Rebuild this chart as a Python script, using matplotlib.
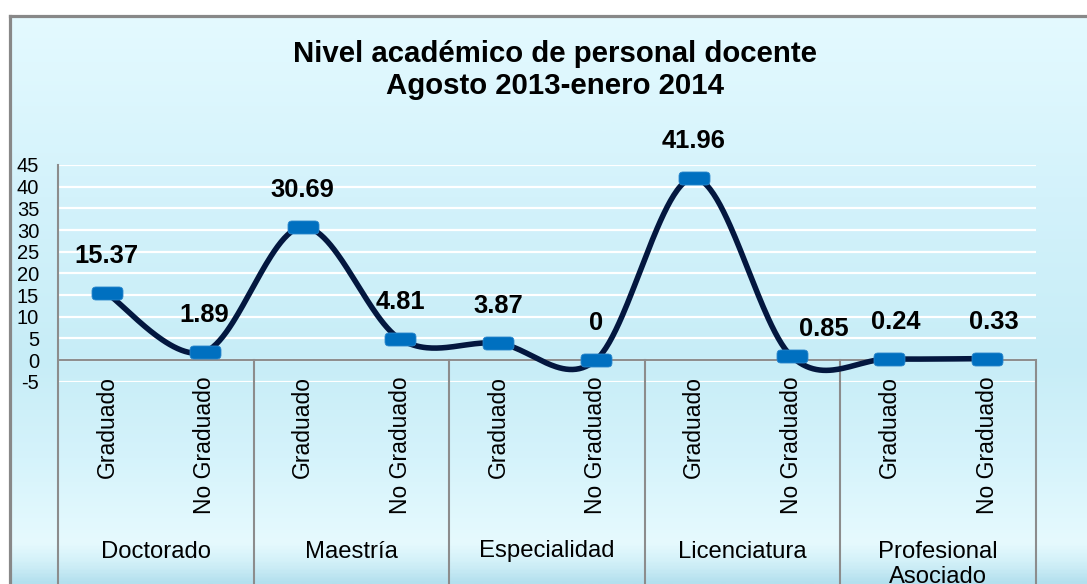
import numpy as np
import matplotlib
matplotlib.use("Agg")
import matplotlib.pyplot as plt
import matplotlib.transforms as mtransforms
from matplotlib.patches import BoxStyle
from matplotlib.colors import LinearSegmentedColormap

# ---------------- data ----------------
groups = ["Doctorado", "Maestría", "Especialidad", "Licenciatura", "Profesional\nAsociado"]
subcats = ["Graduado", "No Graduado"]
values = [15.37, 1.89, 30.69, 4.81, 3.87, 0, 41.96, 0.85, 0.24, 0.33]
value_labels = ["15.37", "1.89", "30.69", "4.81", "3.87", "0", "41.96", "0.85", "0.24", "0.33"]
yticks = [-5, 0, 5, 10, 15, 20, 25, 30, 35, 40, 45]
title = "Nivel académico de personal docente\nAgosto 2013-enero 2014"

# ---------------- style ----------------
plt.rcParams['font.family'] = ['Liberation Sans', 'DejaVu Sans']
W, H = 1087, 584
DPI = 100
fig = plt.figure(figsize=(W / DPI, H / DPI), dpi=DPI)
fig.patch.set_facecolor('white')

def fx(px):
    return px / W

def fy(py):
    return 1 - py / H

# background (chart area gradient + border)
bg = fig.add_axes([fx(9.5), 0, 1 - fx(9.5) + 0.05, fy(15.5)], zorder=-10)
stops = [(0.0, '#E4FAFF'), (0.32, '#D3F2FB'), (0.61, '#C7EDF7'),
         (0.78, '#D5F3FB'), (0.93, '#E6FAFE'), (0.965, '#D2F0F8'), (1.0, '#B4E0EE')]
cmap = LinearSegmentedColormap.from_list('bg', stops)
grad = np.linspace(0, 1, 400).reshape(-1, 1)
bg.imshow(grad, aspect='auto', cmap=cmap, extent=[0, 1, 1, 0], interpolation='bilinear')
bg.set_xlim(0, 1)
bg.set_ylim(1, 0)
bg.set_xticks([])
bg.set_yticks([])
for s in ['right', 'bottom']:
    bg.spines[s].set_visible(False)
for s in ['left', 'top']:
    bg.spines[s].set_color('#888888')
    bg.spines[s].set_linewidth(2.3)

# main plot axes
left_px, right_px, top_px, bot_px = 58, 1036, 165, 381.7
ax = fig.add_axes([fx(left_px), fy(bot_px), fx(right_px - left_px), (bot_px - top_px) / H])
ax.patch.set_alpha(0)
n = len(values)
xs = np.arange(n)
ax.set_xlim(-0.5, n - 0.5)
ax.set_ylim(-5, 45)
ax.set_yticks(yticks)
ax.set_yticklabels([str(t) for t in yticks], fontsize=14.5)
ax.set_xticks([])
ax.tick_params(axis='y', length=0, pad=13.5)
for s in ['top', 'right', 'bottom', 'left']:
    ax.spines[s].set_visible(False)
for t in yticks:
    ax.axhline(t, color='white', lw=1.6, zorder=1)

# axis lines (gray)
gray = '#8C8C8C'
ax.axhline(0, color=gray, lw=1.4, zorder=2)
blend = mtransforms.blended_transform_factory(ax.transData, fig.transFigure)
# y axis line (from top of plot to bottom of figure)
ax.plot([-0.5, -0.5], [fy(top_px), 0], transform=blend, color=gray, lw=1.5, clip_on=False, zorder=2)
# group separators from value 0 down to bottom
y0_fig = fy(top_px + 45 * (bot_px - top_px) / 50)
for k in range(1, len(groups) + 1):
    xb = 2 * k - 0.5
    ax.plot([xb, xb], [y0_fig, 0], transform=blend, color=gray, lw=1.5, clip_on=False, zorder=2)

# smoothed line (Catmull-Rom like Excel smoothing)
P = np.column_stack([xs, values]).astype(float)
curve_x, curve_y = [], []
tt = np.linspace(0, 1, 60)
for i in range(n - 1):
    p0 = P[max(i - 1, 0)]
    p1 = P[i]
    p2 = P[i + 1]
    p3 = P[min(i + 2, n - 1)]
    c1 = p1 + (p2 - p0) / 6
    c2 = p2 - (p3 - p1) / 6
    b = ((1 - tt) ** 3)[:, None] * p1 + (3 * (1 - tt) ** 2 * tt)[:, None] * c1 + \
        (3 * (1 - tt) * tt ** 2)[:, None] * c2 + (tt ** 3)[:, None] * p2
    curve_x.extend(b[:, 0])
    curve_y.extend(b[:, 1])
ax.plot(curve_x, curve_y, color='#03173F', lw=4.0, solid_capstyle='round', zorder=4, clip_on=False)

# rounded-rectangle markers
marker_path = BoxStyle("Round", pad=0, rounding_size=0.13)(-0.5, -0.21, 1.0, 0.42, 1.0)
ax.plot(xs, values, linestyle='none', marker=marker_path, markersize=22.3,
        markerfacecolor='#0070C0', markeredgecolor='#2A86CC', markeredgewidth=0.6,
        zorder=5, clip_on=False)

# data labels
label_offsets = {7: (23, 20)}
for i, (v, lab) in enumerate(zip(values, value_labels)):
    dx, dy = label_offsets.get(i, (0 if i < 7 else 5, 26.6))
    ax.annotate(lab, (i, v), xytext=(dx, dy), textcoords='offset points',
                ha='center', va='center', fontsize=18.4, fontweight='bold', color='black',
                zorder=6, annotation_clip=False)

# category labels
for i in range(n):
    ax.text(i, fy(376), subcats[i % 2], transform=blend, rotation=90,
            ha='center', va='top', fontsize=16.5, color='black')
for g, name in enumerate(groups):
    ax.text(2 * g + 0.5, fy(540.5), name, transform=blend, ha='center', va='top',
            fontsize=17.2, color='black', linespacing=1.18)

# title
fig.text(fx(555), fy(70), title, ha='center', va='center', fontsize=21.2,
         fontweight='bold', color='black', linespacing=1.22)

fig.savefig('out.png', dpi=DPI)
